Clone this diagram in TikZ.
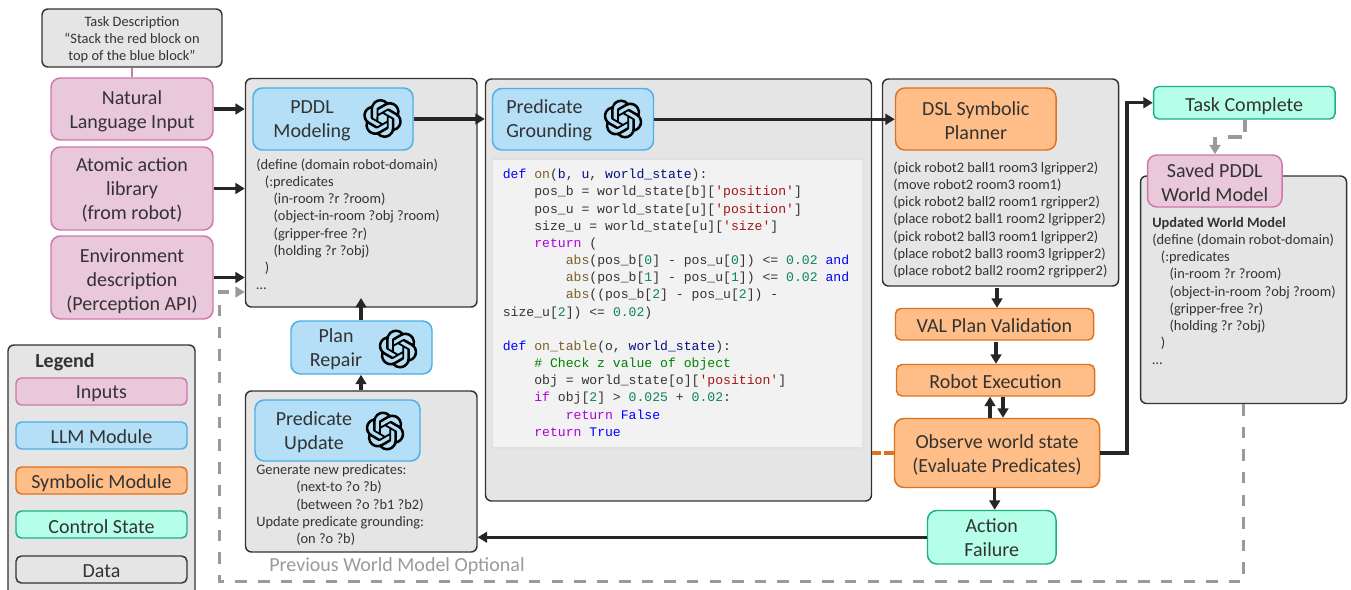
\documentclass[tikz,border=0pt]{standalone}
\usepackage{fontspec}
\setmainfont{Carlito}
\setmonofont{Liberation Mono}
\usetikzlibrary{arrows.meta,svg.path,calc}
\definecolor{txt}{HTML}{333333}
\definecolor{ln}{HTML}{262626}
\definecolor{kwb}{HTML}{0000FF}
\definecolor{fnb}{HTML}{795E26}
\definecolor{par}{HTML}{001080}
\definecolor{strc}{HTML}{A31515}
\definecolor{ctl}{HTML}{AF00DB}
\definecolor{num}{HTML}{098658}
\definecolor{com}{HTML}{008000}
\newcommand\bigf{\fontsize{15}{18}\selectfont}
\newcommand\smf{\fontsize{10.8}{12.9}\selectfont}
\newcommand\cdf{\ttfamily\fontsize{9.84}{12.87}\selectfont}
\newcommand\K[1]{\textcolor{kwb}{#1}}
\newcommand\F[1]{\textcolor{fnb}{#1}}
\newcommand\Pa[1]{\textcolor{par}{#1}}
\newcommand\St[1]{\textcolor{strc}{#1}}
\newcommand\Ct[1]{\textcolor{ctl}{#1}}
\newcommand\N[1]{\textcolor{num}{#1}}
\newcommand\Cm[1]{\textcolor{com}{#1}}
\newcommand\dn[1]{\rule{0pt}{#1pt}}
% box: style, name, x0, y0, x1, y1, text
\newcommand\bx[7]{%
  \pgfmathsetmacro\bw{(#5-#3)*0.75}%
  \pgfmathsetmacro\bh{(#6-#4)*0.75}%
  \node[#1,minimum width=\bw pt,minimum height=\bh pt] (#2) at ({(#3+#5)/2},{(#4+#6)/2}) {#7};}
\newcommand\gptlogo[2]{%
  \begin{scope}[shift={(#1,#2)},scale=1.22,yscale=-1,xshift=-12pt,yshift=-12pt]
  \fill[black,even odd rule] svg {M22.2819 9.8211 a5.9847 5.9847 0 0 0 -0.5157 -4.9108 a6.0462 6.0462 0 0 0 -6.5098 -2.9 A6.0651 6.0651 0 0 0 4.9807 4.1818 a5.9847 5.9847 0 0 0 -3.9977 2.9 a6.0462 6.0462 0 0 0 0.7427 7.0966 a5.98 5.98 0 0 0 0.511 4.9107 a6.051 6.051 0 0 0 6.5146 2.9001 A5.9847 5.9847 0 0 0 13.2599 24 a6.0557 6.0557 0 0 0 5.7718 -4.2058 a5.9894 5.9894 0 0 0 3.9977 -2.9001 a6.0557 6.0557 0 0 0 -0.7475 -7.0729 z
  M13.2599 22.4292 a4.4755 4.4755 0 0 1 -2.8764 -1.0408 l0.1419 -0.0804 l4.7783 -2.7582 a0.7948 0.7948 0 0 0 0.3927 -0.6813 v-6.7369 l2.02 1.1686 l0.038 0.052 v5.5826 a4.504 4.504 0 0 1 -4.4945 4.4944 z
  M3.5992 18.3038 a4.4708 4.4708 0 0 1 -0.5346 -3.0137 l0.142 0.0852 l4.783 2.7582 a0.7712 0.7712 0 0 0 0.7806 0 l5.8428 -3.3685 v2.3324 l-0.0332 0.0615 L9.74 19.9502 a4.4992 4.4992 0 0 1 -6.1408 -1.6464 z
  M2.3408 7.8956 a4.485 4.485 0 0 1 2.3655 -1.9728 V11.6 a0.7664 0.7664 0 0 0 0.3879 0.6765 l5.8144 3.3543 l-2.0201 1.1685 l-0.071 0 l-4.8303 -2.7865 A4.504 4.504 0 0 1 2.3408 7.872 z
  M18.9371 11.7514 L13.1038 8.364 L15.1192 7.2 l0.071 0 l4.8303 2.7913 a4.4944 4.4944 0 0 1 -0.6765 8.1042 v-5.6772 a0.79 0.79 0 0 0 -0.407 -0.667 z
  M20.9478 8.7283 l-0.142 -0.0852 l-4.7735 -2.7818 a0.7759 0.7759 0 0 0 -0.7854 0 L9.409 9.2297 V6.8974 l0.0284 -0.0615 l4.8303 -2.7866 a4.4992 4.4992 0 0 1 6.6802 4.66 z
  M8.3065 12.863 l-2.02 -1.1638 l-0.038 -0.0567 V6.0742 a4.4992 4.4992 0 0 1 7.3757 -3.4537 l-0.142 0.0805 L8.704 5.459 a0.7948 0.7948 0 0 0 -0.3927 0.6813 z
  M9.4041 10.4976 l2.602 -1.4998 l2.6069 1.4998 v2.9994 l-2.5974 1.4997 l-2.6067 -1.4997 Z};
  \end{scope}}
\tikzset{
  basebox/.style={draw,line width=1.1pt,inner sep=0pt,align=center,text=txt,font=\bigf,rounded corners=7pt},
  datab/.style={basebox,draw=txt,fill=black!10,rounded corners=4.5pt},
  pinkb/.style={basebox,draw=pinkl,fill=pinkf},
  blueb/.style={basebox,draw=bluel,fill=bluef},
  orb/.style={basebox,draw=orl,fill=orf},
  tealb/.style={basebox,draw=teall,fill=tealf},
  tight/.style={rounded corners=4pt},
  lab/.style={text=txt,font=\bigf,align=center,inner sep=0pt},
  smtext/.style={text=txt,font=\smf,align=left,inner sep=0pt,anchor=north west},
  conn/.style={draw=ln,line width=2.3pt,-{Triangle[length=7pt,width=8pt]}},
  dashc/.style={draw=dashg,line width=2.5pt,dash pattern=on 8.6pt off 8.33pt},
  graytip/.style={draw=dashg,line width=2.5pt,-{Triangle[length=7pt,width=8pt]}},
}
\definecolor{pinkl}{HTML}{CF76AB}
\definecolor{pinkf}{HTML}{E9C8DC}
\definecolor{bluel}{HTML}{4BAFEA}
\definecolor{bluef}{HTML}{B4DFF6}
\definecolor{orl}{HTML}{E0711C}
\definecolor{orf}{HTML}{FFBE87}
\definecolor{teall}{HTML}{1CAE88}
\definecolor{tealf}{HTML}{B6FFE8}
\definecolor{dashg}{HTML}{9A9A9A}
\begin{document}
\begin{tikzpicture}[x=0.75pt,y=-0.75pt]
\useasboundingbox (0,0) rectangle (1351,589);
% outer data boxes
\bx{datab,font=\smf}{task}{42}{9}{222}{67}{\dn{10}Task Description\\``Stack the red block on\\top of the blue block''}
\bx{datab}{pddlout}{245.5}{78.5}{477}{307}{}
\bx{datab}{gndout}{485.5}{79}{871.5}{501}{}
\bx{datab}{dslout}{882.5}{79}{1118.5}{286}{}
\bx{datab}{worldout}{1140.5}{176}{1346.5}{403.5}{}
\bx{datab}{updout}{245.5}{391}{477}{552}{}
% inputs
\bx{pinkb}{nl}{51}{78}{213}{140}{\dn{14.2}Natural\\Language Input}
\bx{pinkb}{atom}{51}{147}{213}{230}{\dn{12.7}Atomic action\\library\\(from robot)}
\bx{pinkb}{env}{51}{236}{213}{319}{\dn{15.2}Environment\\description\\(Perception API)}
% LLM modules
\bx{blueb}{pddl}{253}{88}{413}{150}{}
\node[lab] (pddltxt) at (312,120.5) {PDDL\\Modeling};
\gptlogo{382.5}{118.5}
\bx{blueb}{gnd}{492.5}{88.5}{653.5}{150}{}
\node[lab,align=left,anchor=west] (gndtxt) at (506,120.5) {Predicate\\Grounding};
\gptlogo{623}{119}
\bx{blueb}{repair}{291}{321}{432}{374}{}
\node[lab] (reptxt) at (336,349) {Plan\\Repair};
\gptlogo{398}{349}
\bx{blueb}{upd}{255}{400}{420}{461}{}
\node[lab] (updtxt) at (314,432) {Predicate\\Update};
\gptlogo{385}{431}
% symbolic
\bx{orb}{dsl}{895.5}{88}{1056}{150}{\dn{12.7}DSL Symbolic\\Planner}
\bx{orb,tight}{val}{895.5}{308.5}{1093.5}{340}{\dn{12}VAL Plan Validation}
\bx{orb,tight}{exec}{896.5}{364.5}{1094.5}{396}{\dn{12}Robot Execution}
\bx{orb}{obs}{894.5}{418.5}{1099.5}{487.5}{\dn{13.5}Observe world state\\(Evaluate Predicates)}
% control
\bx{tealb,tight}{done}{1153.5}{86.5}{1335}{119}{\dn{15.2}Task Complete}
\bx{tealb}{fail}{927.5}{510.5}{1056}{564}{Action\\Failure}
\bx{pinkb}{saved}{1147.5}{155}{1282}{207}{\dn{12.7}Saved PDDL\\World Model}
% data text
\node[smtext] (pddlcode) at (256,158.5) {(define (domain robot-domain)\\
\hspace*{6.5pt}(:predicates\\
\hspace*{13pt}(in-room ?r ?room)\\
\hspace*{13pt}(object-in-room ?obj ?room)\\
\hspace*{13pt}(gripper-free ?r)\\
\hspace*{13pt}(holding ?r ?obj)\\
\hspace*{6.5pt})\\
\dots};
\node[smtext] (plan) at (893,161.5) {(pick robot2 ball1 room3 lgripper2)\\
(move robot2 room3 room1)\\
(pick robot2 ball2 room1 rgripper2)\\
(place robot2 ball1 room2 lgripper2)\\
(pick robot2 ball3 room1 lgripper2)\\
(place robot2 ball3 room3 lgripper2)\\
(place robot2 ball2 room2 rgripper2)};
\node[smtext] (worldtxt) at (1152,217) {\textbf{Updated World Model}\\
(define (domain robot-domain)\\
\hspace*{6.5pt}(:predicates\\
\hspace*{13pt}(in-room ?r ?room)\\
\hspace*{13pt}(object-in-room ?obj ?room)\\
\hspace*{13pt}(gripper-free ?r)\\
\hspace*{13pt}(holding ?r ?obj)\\
\hspace*{6.5pt})\\
\dots};
\node[smtext] (updtext) at (256,464.5) {Generate new predicates:\\
\hspace*{30pt}(next-to ?o ?b)\\
\hspace*{30pt}(between ?o ?b1 ?b2)\\
Update predicate grounding:\\
\hspace*{30pt}(on ?o ?b)};
% code
\bx{draw=black!12,fill=black!5,line width=0.8pt,inner sep=0pt}{codebox}{492.5}{159}{862.5}{448}{}
\node[smtext,font=\cdf] (code) at (502.5,169) {\K{def} \F{on}(\Pa{b}, \Pa{u}, \Pa{world\_state}):\\
~~~~pos\_b = world\_state[b][\St{'position'}]\\
~~~~pos\_u = world\_state[u][\St{'position'}]\\
~~~~size\_u = world\_state[u][\St{'size'}]\\
~~~~\Ct{return} (\\
~~~~~~~~\F{abs}(pos\_b[\N{0}] - pos\_u[\N{0}]) <= \N{0.02} \K{and}\\
~~~~~~~~\F{abs}(pos\_b[\N{1}] - pos\_u[\N{1}]) <= \N{0.02} \K{and}\\
~~~~~~~~\F{abs}((pos\_b[\N{2}] - pos\_u[\N{2}]) -\\
size\_u[\N{2}]) <= \N{0.02})\\
\mbox{}\\
\K{def} \F{on\_table}(o, \Pa{world\_state}):\\
~~~~\Cm{\# Check z value of object}\\
~~~~obj = world\_state[o][\St{'position'}]\\
~~~~\Ct{if} obj[\N{2}] > \N{0.025} + \N{0.02}:\\
~~~~~~~~\Ct{return} \K{False}\\
~~~~\Ct{return} \K{True}};
% legend
\bx{datab}{legend}{8}{345}{195}{596}{}
\node[lab,font=\bigf\bfseries,anchor=west] (legt) at (35,362.5) {Legend};
\bx{pinkb,tight}{l1}{16}{378}{187}{405}{\dn{12.7}Inputs}
\bx{blueb,tight}{l2}{16}{422}{187}{449}{\dn{12.7}LLM Module}
\bx{orb,tight}{l3}{16}{467}{187}{494}{\dn{14.2}Symbolic Module}
\bx{tealb,tight}{l4}{16}{511}{187}{538}{\dn{14.2}Control State}
\bx{datab,tight}{l5}{16}{556}{187}{583}{\dn{12.7}Data}
\node[lab,text=dashg] (prevtxt) at (397,566.5) {Previous World Model Optional};
% connectors
\draw[draw=pinkl,line width=2pt] (task.south -| nl.north) -- (nl.north);
\draw[conn] (nl.east) -- (nl.east -| pddlout.west);
\draw[conn] (atom.east) -- (atom.east -| pddlout.west);
\draw[conn] (env.east) -- (env.east -| pddlout.west);
\draw[conn] (pddl.east) -- (pddl.east -| gndout.west);
\draw[conn] (gnd.east) -- (gnd.east -| dsl.west);
\coordinate (tipup) at (361,298);
\draw[conn] (repair.north -| tipup) -- (tipup);
\draw[conn] (updout.north -| tipup) -- (repair.south -| tipup);
\coordinate (d1) at (997,287.5);
\draw[conn] (d1) -- (d1 |- val.north);
\coordinate (d2) at (996,342);
\draw[conn] (d2) -- (d2 |- exec.north);
\coordinate (u1) at (990,0);
\coordinate (u2) at (1003,0);
\draw[conn] (u1 |- obs.north) -- (u1 |- exec.south);
\draw[conn] (u2 |- exec.south) -- (u2 |- obs.north);
\coordinate (d3) at (994.7,488);
\draw[conn] (d3) -- (d3 |- fail.north);
\draw[conn] (fail.west) -- (fail.west -| updout.east);
\coordinate (r1) at (1127,0);
\draw[conn,line join=miter] (obs.east) -- (obs.east -| r1) -- (r1 |- done.west) -- (done.west);
\draw[draw=orl,line width=2.4pt,dash pattern=on 7pt off 2.5pt] (obs.west) -- (obs.west -| gndout.east);
% dashed returns
\coordinate (t1) at (1245,137);
\coordinate (t2) at (1215,137);
\draw[graytip,dash pattern=on 9pt off 6.5pt on 10pt off 10pt on 14pt off 20pt] (done.south -| t1) -- (t1) -- (t2) -- (t2 |- saved.north);
\coordinate (w1) at (1243.5,581.5);
\coordinate (w2) at (219.5,581.5);
\coordinate (w6) at (219.5,305);
\coordinate (w3) at (218,292);
\coordinate (w4) at (229,292);
\coordinate (w5) at (236,292);
\draw[dashc] (worldout.south -| w1) -- (w1) -- (w2) -- (w6);
\draw[draw=dashg,line width=2.5pt] (w3) -- (w4);
\draw[graytip] (w5) -- (pddlout.west |- w5);
\end{tikzpicture}
\end{document}
